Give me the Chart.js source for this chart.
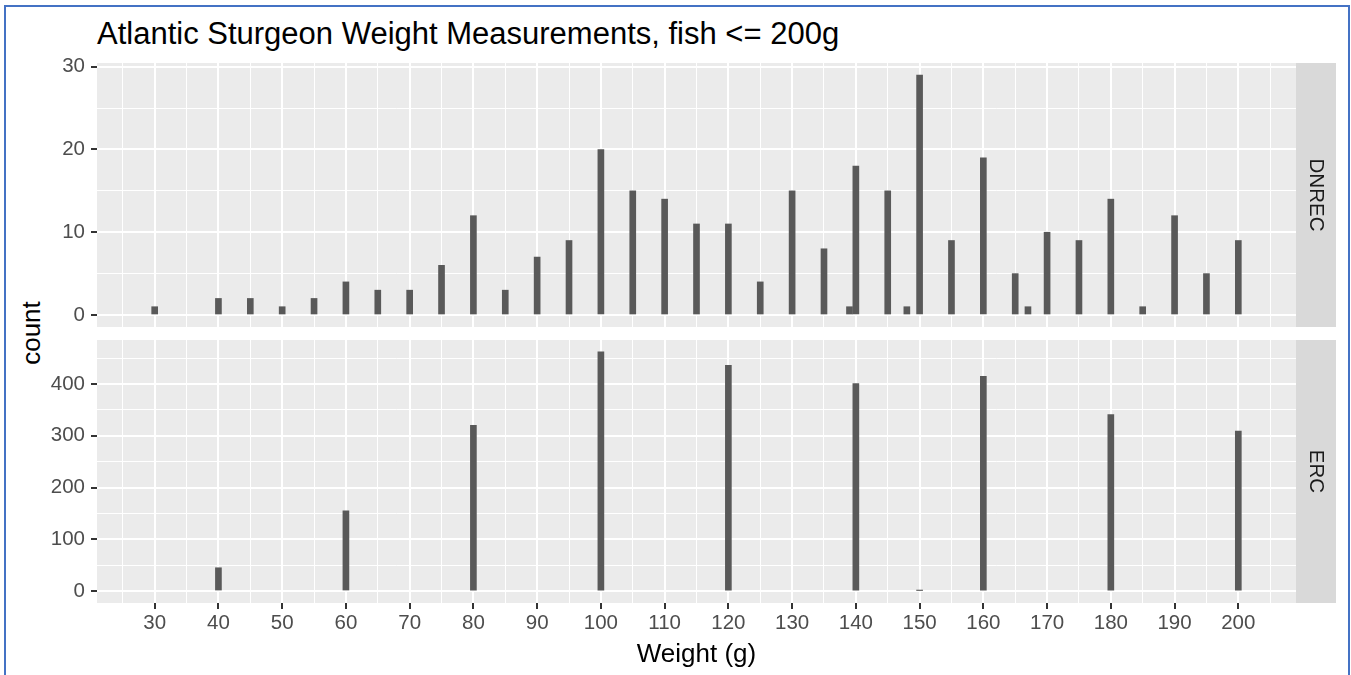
<!DOCTYPE html>
<html>
<head>
<meta charset="utf-8">
<script src="https://cdn.jsdelivr.net/npm/chart.js@4.4.1/dist/chart.umd.min.js"></script>
<style>
  body { margin: 0; width: 1351px; height: 675px; overflow: hidden; background: #fff; position: relative; font-family: 'Liberation Sans', Arial, sans-serif; }
  #frame { position: absolute; left: 4px; top: 5px; width: 1342px; height: 700px; border: 2px solid #4472C4; border-bottom: none; }
  #title { position: absolute; left: 97px; top: 18px; font-size: 31px; line-height: 31px; color: #000; white-space: nowrap; }
  #ylab { position: absolute; left: 31px; top: 333px; font-size: 26px; line-height: 26px; color: #000; white-space: nowrap; transform: translate(-50%, -50%) rotate(-90deg); }
  canvas { position: absolute; left: 0; }
  #dnrecChart { top: 0; }
  #ercChart { top: 333px; }
</style>
</head>
<body>
<div id="frame"></div>
<div id="title">Atlantic Sturgeon Weight Measurements, fish &lt;= 200g</div>
<div id="ylab">count</div>
<canvas id="dnrecChart" width="1351" height="333"></canvas>
<canvas id="ercChart" width="1351" height="342"></canvas>
<script>
// DNREC panel (top)
const dnrecWeights = [30, 40, 45, 50, 55, 60, 65, 70, 75, 80, 85, 90, 95, 100, 105, 110, 115, 120, 125, 130,
  135, 139, 140, 145, 148, 150, 155, 160, 165, 167, 170, 175, 180, 185, 190, 195, 200];
const dnrecCounts = [1, 2, 2, 1, 2, 4, 3, 3, 6, 12, 3, 7, 9, 20, 15, 14, 11, 11, 4, 15,
  8, 1, 18, 15, 1, 29, 9, 19, 5, 1, 10, 9, 14, 1, 12, 5, 9];

// ERC panel (bottom)
const ercWeights = [40, 60, 80, 100, 120, 140, 150, 160, 180, 200];
const ercCounts = [45, 155, 320, 462, 436, 401, 1, 415, 341, 309];

// axis breaks
const xMajorTicks = [30, 40, 50, 60, 70, 80, 90, 100, 110, 120, 130, 140, 150, 160, 170, 180, 190, 200];
const xMinorTicks = [25, 35, 45, 55, 65, 75, 85, 95, 105, 115, 125, 135, 145, 155, 165, 175, 185, 195, 205];
const dnrecMajorTicks = [0, 10, 20, 30];
const dnrecMinorTicks = [5, 15, 25];
const ercMajorTicks = [0, 100, 200, 300, 400];
const ercMinorTicks = [50, 150, 250, 350, 450];

Chart.defaults.font.family = "'Liberation Sans', Arial, sans-serif";

const panelBackground = {
  id: 'panelBackground',
  beforeDraw(chart) {
    const { ctx, chartArea: a } = chart;
    ctx.save();
    ctx.fillStyle = '#EBEBEB';
    ctx.fillRect(a.left, a.top, a.right - a.left, a.bottom - a.top);
    ctx.restore();
  }
};

const facetStrip = {
  id: 'facetStrip',
  afterDraw(chart, args, opts) {
    const { ctx, chartArea: a } = chart;
    ctx.save();
    ctx.fillStyle = '#D9D9D9';
    ctx.fillRect(a.right, a.top, 40, a.bottom - a.top);
    ctx.translate(a.right + 20, (a.top + a.bottom) / 2);
    ctx.rotate(Math.PI / 2);
    ctx.fillStyle = '#1A1A1A';
    ctx.font = "20.5px 'Liberation Sans', Arial, sans-serif";
    ctx.textAlign = 'center';
    ctx.textBaseline = 'middle';
    ctx.fillText(opts.text, 0, 0);
    ctx.restore();
  }
};

function breaks(major, minor) {
  return scale => {
    scale.ticks = major.concat(minor).sort((a, b) => a - b).map(v => ({ value: v }));
  };
}

// no extra room for overhanging tick labels, the panels are placed by hand
function noPad(s) {
  s.paddingTop = 0;
  s.paddingBottom = 0;
  s.paddingLeft = 0;
  s.paddingRight = 0;
}

function gridFor(major) {
  const isMajor = c => c.tick && major.includes(c.tick.value);
  return {
    color: '#FFFFFF',
    lineWidth: c => isMajor(c) ? 2 : 1,
    tickColor: c => isMajor(c) ? '#333333' : 'rgba(0,0,0,0)',
    tickWidth: 2,
    tickLength: 6
  };
}

function drawPanel(canvasId, weights, counts, yMajor, yMinor, yMin, yMax, stripText, showX) {
  const ctx = document.getElementById(canvasId).getContext('2d');
  const xGrid = gridFor(xMajorTicks);
  if (!showX) xGrid.drawTicks = false;

  return new Chart(ctx, {
    type: 'bar',
    data: {
      datasets: [{
        data: weights.map((w, i) => ({ x: w, y: counts[i] })),
        backgroundColor: '#595959',
        borderWidth: 0,
        barThickness: 6
      }]
    },
    options: {
      responsive: false,
      animation: false,
      layout: { padding: { top: showX ? 7 : 63, right: 55, bottom: showX ? 0 : 6, left: 0 } },
      plugins: {
        legend: { display: false },
        tooltip: { enabled: false },
        facetStrip: { text: stripText }
      },
      scales: {
        x: {
          type: 'linear',
          min: 20.95,
          max: 209.05,
          offset: false,
          afterBuildTicks: breaks(xMajorTicks, xMinorTicks),
          afterFit: s => { s.height = showX ? 72 : 0; noPad(s); },
          grid: Object.assign(xGrid, { offset: false }),
          border: { display: false },
          ticks: {
            display: showX,
            autoSkip: false,
            maxRotation: 0,
            padding: 2,
            color: '#4D4D4D',
            font: { size: 20.5 },
            callback: v => xMajorTicks.includes(v) ? String(v) : ''
          },
          title: {
            display: showX,
            text: 'Weight (g)',
            color: '#000000',
            font: { size: 26 },
            padding: { top: 0, bottom: 5 }
          }
        },
        y: {
          type: 'linear',
          min: yMin,
          max: yMax,
          afterBuildTicks: breaks(yMajor, yMinor),
          afterFit: s => { s.width = 97; noPad(s); },
          grid: gridFor(yMajor),
          border: { display: false },
          ticks: {
            autoSkip: false,
            padding: 6,
            color: '#4D4D4D',
            font: { size: 20.5 },
            callback: v => yMajor.includes(v) ? String(v) : ''
          }
        }
      }
    },
    plugins: [panelBackground, facetStrip]
  });
}

drawPanel('dnrecChart', dnrecWeights, dnrecCounts, dnrecMajorTicks, dnrecMinorTicks, -1.45, 30.45, 'DNREC', false);
drawPanel('ercChart', ercWeights, ercCounts, ercMajorTicks, ercMinorTicks, -23.1, 485.1, 'ERC', true);
</script>
</body>
</html>
